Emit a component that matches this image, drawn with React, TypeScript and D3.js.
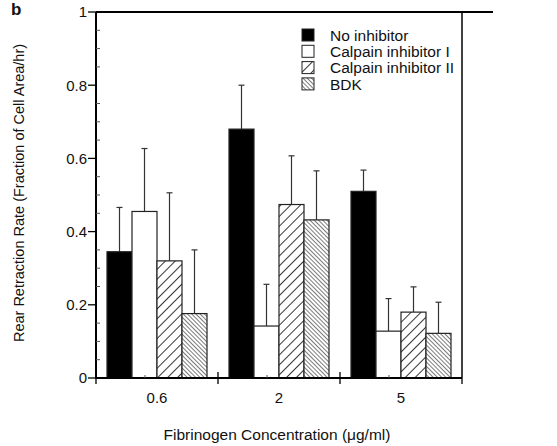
import React from "react";
import * as d3 from "d3";

const categories = ["0.6", "2", "5"];
const seriesNames = ["No inhibitor", "Calpain inhibitor I", "Calpain inhibitor II", "BDK"];
const means = [
  [0.345, 0.68, 0.51],
  [0.455, 0.142, 0.128],
  [0.32, 0.474, 0.18],
  [0.176, 0.432, 0.122],
];
const errTops = [
  [0.466, 0.8, 0.568],
  [0.627, 0.256, 0.217],
  [0.506, 0.607, 0.249],
  [0.35, 0.566, 0.207],
];
const yTicks = [0, 0.2, 0.4, 0.6, 0.8, 1];
const yTickLabels = ["0", "0.2", "0.4", "0.6", "0.8", "1"];

const W = 557, H = 446;
const left = 96, right = 462, top = 12, bottom = 378;
const font = "Liberation Sans, Arial, Helvetica, sans-serif";

export default function App() {
  const x = d3.scaleBand<string>().domain(categories).range([left, right]).paddingInner(0).paddingOuter(0);
  const inner = d3.scaleBand<string>().domain(seriesNames).range([0, 100]);
  const y = d3.scaleLinear().domain([0, 1]).range([bottom, top]);
  const fills = ["#000", "#fff", "url(#hatchA)", "url(#hatchB)"];
  const minor = d3.range(0, 1.0001, 0.05).filter((v) => Math.abs(v * 5 - Math.round(v * 5)) > 1e-6);
  const bw = x.bandwidth();

  return (
    <svg width={W} height={H} style={{ position: "absolute", left: 0, top: 0, background: "#fff" }}>
      <defs>
        <pattern id="hatchA" patternUnits="userSpaceOnUse" width="7" height="7" patternTransform="rotate(45)">
          <rect width="7" height="7" fill="#fff" />
          <line x1="0" y1="0" x2="0" y2="7" stroke="#111" strokeWidth="1.7" />
        </pattern>
        <pattern id="hatchB" patternUnits="userSpaceOnUse" width="3" height="3" patternTransform="rotate(-45)">
          <rect width="3" height="3" fill="#fff" />
          <line x1="0" y1="0" x2="0" y2="3" stroke="#222" strokeWidth="1.2" />
        </pattern>
      </defs>
      <rect width={W} height={H} fill="#fff" />
      <text x={11} y={15} fontFamily={font} fontWeight="bold" fontSize={17} fill="#111">b</text>

      {/* bars */}
      {means.map((row, si) =>
        row.map((v, ci) => {
          const x0 = (x(categories[ci]) as number) + bw / 2 - 50 + (inner(seriesNames[si]) as number);
          const w = inner.bandwidth();
          const cx = x0 + w / 2;
          return (
            <g key={`${si}-${ci}`}>
              <line x1={cx} x2={cx} y1={y(v)} y2={y(errTops[si][ci])} stroke="#333" strokeWidth={1.2} />
              <line x1={cx - 3} x2={cx + 3} y1={y(errTops[si][ci])} y2={y(errTops[si][ci])} stroke="#333" strokeWidth={1.2} />
              <rect x={x0} y={y(v)} width={w} height={bottom - y(v)} fill={fills[si]} stroke="#222" strokeWidth={1.2} />
            </g>
          );
        })
      )}

      {/* frame */}
      <line x1={left} x2={493} y1={top} y2={top} stroke="#000" strokeWidth={2} />
      <line x1={right} x2={right} y1={top} y2={bottom} stroke="#000" strokeWidth={1.5} />
      <line x1={left} x2={left} y1={top} y2={bottom + 1} stroke="#000" strokeWidth={2} />
      <line x1={left - 1} x2={right} y1={bottom} y2={bottom} stroke="#000" strokeWidth={2} />

      {/* y ticks */}
      {yTicks.map((t, i) => (
        <g key={t}>
          <line x1={left - 8} x2={left} y1={y(t)} y2={y(t)} stroke="#000" strokeWidth={1.3} />
          <text x={left - 9} y={y(t)} dy="0.36em" textAnchor="end" fontFamily={font} fontSize={15} fill="#111">
            {yTickLabels[i]}
          </text>
        </g>
      ))}
      {minor.map((t) => (
        <line key={t} x1={left} x2={left + 4} y1={y(t)} y2={y(t)} stroke="#555" strokeWidth={1} />
      ))}

      {/* x ticks */}
      {[left, right].map((v) => (
        <line key={v} x1={v} x2={v} y1={bottom} y2={bottom + 6} stroke="#000" strokeWidth={1.3} />
      ))}
      {categories.slice(1).map((c) => (
        <line key={c} x1={x(c) as number} x2={x(c) as number} y1={bottom - 6} y2={bottom + 6} stroke="#000" strokeWidth={1.3} />
      ))}
      {categories.map((c) => (
        <g key={c}>
          <line x1={(x(c) as number) + bw / 2 - 12} x2={(x(c) as number) + bw / 2 - 12} y1={bottom - 3} y2={bottom} stroke="#555" strokeWidth={1} />
          <text x={(x(c) as number) + bw / 2} y={bottom + 25} textAnchor="middle" fontFamily={font} fontSize={15} fill="#111">
            {c}
          </text>
        </g>
      ))}

      {/* legend */}
      {seriesNames.map((n, i) => (
        <g key={n} transform={`translate(302, ${29 + i * 16.3})`}>
          <rect x={0} y={0} width={12} height={12} fill={fills[i]} stroke="#222" strokeWidth={1} />
          <text x={28} y={6} dy="0.38em" fontFamily={font} fontSize={15.5} fill="#111">{n}</text>
        </g>
      ))}

      {/* axis titles */}
      <text transform={`translate(24, 193) rotate(-90)`} textAnchor="middle" fontFamily={font} fontSize={14.5} fill="#111">
        Rear Retraction Rate (Fraction of Cell Area/hr)
      </text>
      <text x={277} y={440} textAnchor="middle" fontFamily={font} fontSize={15.5} fill="#111">
        Fibrinogen Concentration (μg/ml)
      </text>
    </svg>
  );
}
